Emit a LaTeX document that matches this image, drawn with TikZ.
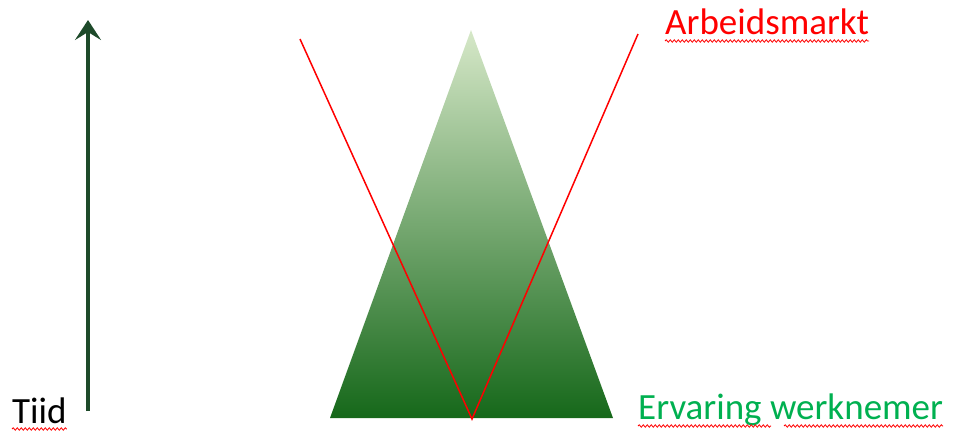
\documentclass[tikz,border=0pt]{standalone}
\usepackage{fontspec}
\setmainfont{Carlito}
\usetikzlibrary{arrows.meta,decorations.pathmorphing}
\definecolor{arrowgreen}{HTML}{1E4A2A}
\definecolor{offgreen}{HTML}{00B050}
\definecolor{toplight}{HTML}{D6E8C8}
\definecolor{midgreen}{HTML}{A3BC78}
\definecolor{botgreen}{HTML}{16681A}
\tikzset{
  lbl/.style={anchor=base west, inner sep=0pt, font=\fontsize{37}{37}\selectfont},
  spell/.style={draw=red, line width=0.8pt, decorate, decoration={snake, amplitude=1.2pt, segment length=4pt}},
  vline/.style={draw=red, line width=1.5pt},
}
\begin{document}
\begin{tikzpicture}[x=1pt,y=-1pt]
\useasboundingbox (0,0) rectangle (956,432);
% triangle
\coordinate (apex) at (471,30);
\coordinate (bl) at (330,418);
\coordinate (br) at (613,418);
\shade[top color=toplight, middle color=midgreen, bottom color=botgreen] (apex) -- (br) -- (bl) -- cycle;
% V
\coordinate (vl) at (300,39);
\coordinate (vb) at (472,419);
\coordinate (vr) at (638,34);
\draw[vline] (vl) -- (vb) -- (vr);
% time arrow
\coordinate (a0) at (88,411);
\coordinate (a1) at (88,20);
\draw[arrowgreen, line width=4pt, -{Stealth[length=20pt,width=26pt,inset=8pt]}] (a0) -- (a1);
% labels
\node[lbl, text=black] (tiid) at (12,423) {Tiid};
\node[lbl, text=offgreen] (erv) at (638,419) {Ervaring werknemer};
\node[lbl, text=red] (arb) at (665,34) {Arbeidsmarkt};
% spell underlines
\draw[spell] ([yshift=-6pt]tiid.base west) -- ([yshift=-6pt]tiid.base east);
\draw[spell] ([yshift=-7pt]erv.base west) -- ++(133,0);
\draw[spell] ([yshift=-7pt,xshift=146pt]erv.base west) -- ([yshift=-7pt]erv.base east);
\draw[spell] ([yshift=-7pt]arb.base west) -- ([yshift=-7pt]arb.base east);
\end{tikzpicture}
\end{document}
